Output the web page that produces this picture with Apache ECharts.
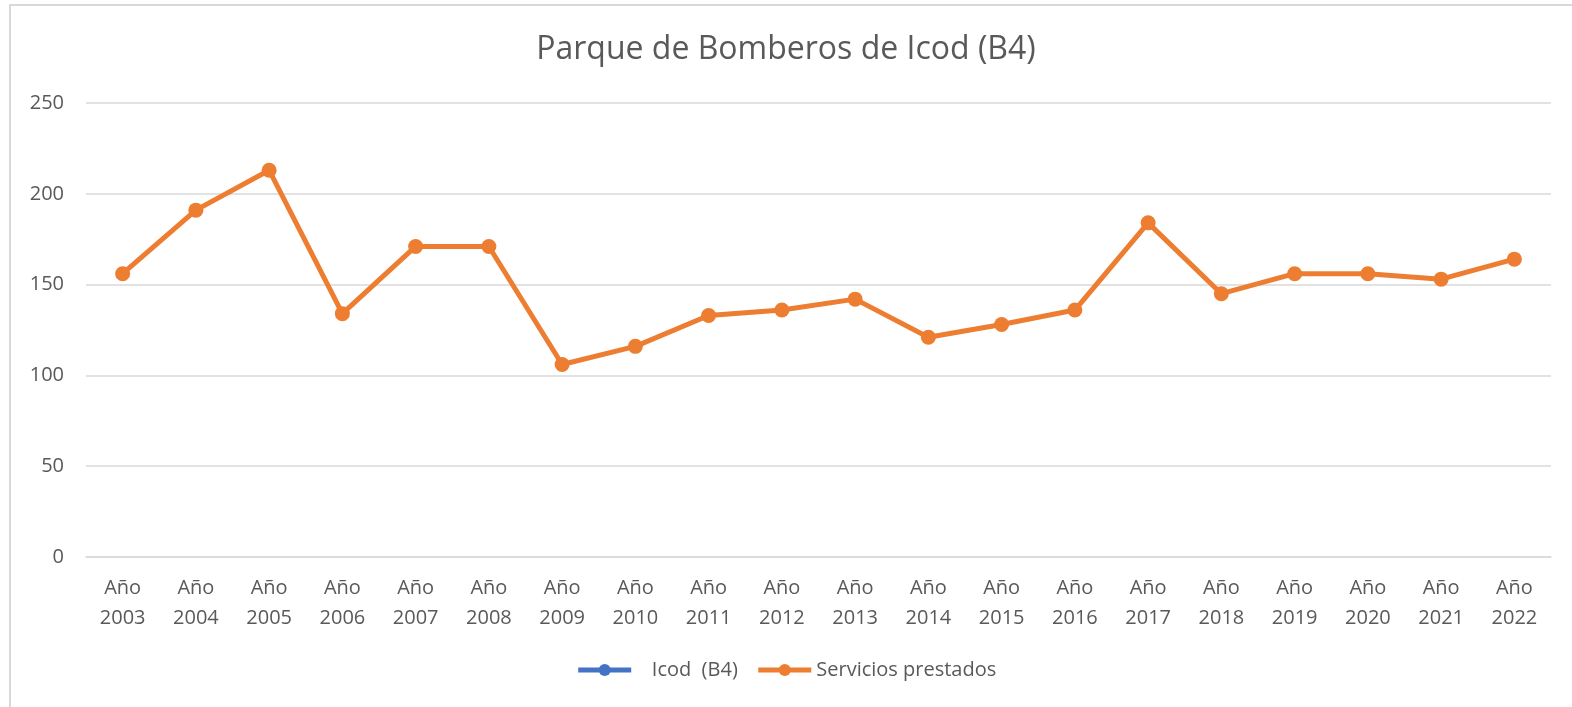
<!DOCTYPE html>
<html>
<head>
<meta charset="utf-8">
<script src="https://cdn.jsdelivr.net/npm/echarts@6/dist/echarts.min.js"></script>
<style>
  html, body { margin: 0; padding: 0; background: #fff; }
  #chart { width: 1572px; height: 707px; }
</style>
</head>
<body>
<div id="chart"></div>
<script>
// datos
var years = ['Año\n2003', 'Año\n2004', 'Año\n2005', 'Año\n2006', 'Año\n2007', 'Año\n2008', 'Año\n2009',
  'Año\n2010', 'Año\n2011', 'Año\n2012', 'Año\n2013', 'Año\n2014', 'Año\n2015', 'Año\n2016',
  'Año\n2017', 'Año\n2018', 'Año\n2019', 'Año\n2020', 'Año\n2021', 'Año\n2022'];
var icod = [];
var servicios = [156, 191, 213, 134, 171, 171, 106, 116, 133, 136, 142, 121, 128, 136, 184, 145, 156, 156, 153, 164];
var yTicks = [0, 50, 100, 150, 200, 250];

var font = 'Open Sans';
var grey = '#595959';

var myChart = echarts.init(document.getElementById('chart'));
var option = {
  backgroundColor: '#fff',
  title: {
    text: 'Parque de Bomberos de Icod (B4)',
    left: 'center',
    top: 29,
    textStyle: { fontFamily: font, fontSize: 32, fontWeight: 'normal', color: grey }
  },
  legend: {
    bottom: 22,
    left: 'center',
    itemWidth: 53,
    itemHeight: 15,
    itemGap: 18,
    textStyle: { fontFamily: font, fontSize: 20, color: grey },
    lineStyle: { width: 5 },
    data: ['   Icod  (B4)', 'Servicios prestados']
  },
  grid: { left: 86, right: 21, top: 103, bottom: 150, containLabel: false },
  xAxis: {
    type: 'category',
    data: years,
    boundaryGap: true,
    axisLine: { show: true, lineStyle: { color: '#d9d9d9', width: 1.5 } },
    axisTick: { show: false },
    axisLabel: { fontFamily: font, fontSize: 20, color: grey, lineHeight: 30, margin: 16, interval: 0 }
  },
  yAxis: {
    type: 'value',
    min: yTicks[0],
    max: yTicks[yTicks.length - 1],
    interval: 50,
    axisLine: { show: false },
    axisTick: { show: false },
    axisLabel: { fontFamily: font, fontSize: 20, color: grey, margin: 22 },
    splitLine: { lineStyle: { color: '#d9d9d9', width: 1.5 } }
  },
  series: [
    {
      name: '   Icod  (B4)',
      type: 'line',
      data: icod,
      symbol: 'circle',
      symbolSize: 15,
      lineStyle: { width: 5, color: '#4472C4' },
      itemStyle: { color: '#4472C4' }
    },
    {
      name: 'Servicios prestados',
      type: 'line',
      data: servicios,
      symbol: 'circle',
      symbolSize: 15,
      lineStyle: { width: 5, color: '#ED7D31' },
      itemStyle: { color: '#ED7D31' }
    }
  ],
  graphic: [{
    type: 'rect',
    shape: { x: 10, y: 5, width: 1580, height: 720 },
    style: { fill: 'none', stroke: '#d9d9d9', lineWidth: 2 },
    silent: true
  }]
};
myChart.setOption(option);
</script>
</body>
</html>
